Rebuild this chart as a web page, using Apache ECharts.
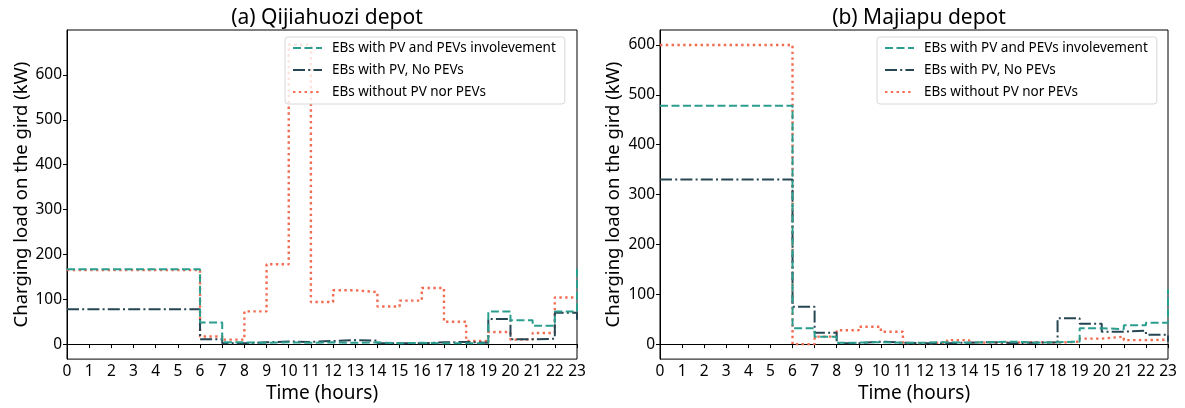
<!DOCTYPE html>
<html>
<head>
<meta charset="utf-8">
<script src="https://cdn.jsdelivr.net/npm/echarts@6/dist/echarts.min.js"></script>
<style>
html,body{margin:0;padding:0;background:#fff;}
#chart{width:1185px;height:408px;}
</style>
</head>
<body>
<div id="chart"></div>
<script>
// ---- data ----
const hours = [0,1,2,3,4,5,6,7,8,9,10,11,12,13,14,15,16,17,18,19,20,21,22,23];
const seriesNames = ['EBs with PV and PEVs involevement', 'EBs with PV, No PEVs', 'EBs without PV nor PEVs'];
const titles = ['(a) Qijiahuozi depot', '(b) Majiapu depot'];
const yTicks = [0,100,200,300,400,500,600];

// (a) Qijiahuozi depot
const qijiaPvPev = [167,167,167,167,167,167,48,4,3,4,3,4,3,4,2,3,2,2,2,73,53,41,73,172];
const qijiaPvNoPev = [78,78,78,78,78,78,11,2,4,6,5,7,9,8,2,2,4,5,3,56,11,12,70,50];
const qijiaNone = [165,165,165,165,165,165,17,10,73,178,667,94,120,116,84,97,125,50,7,27,10,25,104,104];

// (b) Majiapu depot
const majiaPvPev = [478,478,478,478,478,478,32,15,3,4,3,3,4,3,4,5,3,4,5,32,30,38,43,110];
const majiaPvNoPev = [330,330,330,330,330,330,75,23,2,5,3,2,2,3,4,2,3,4,52,41,25,27,19,5];
const majiaNone = [600,600,600,600,600,600,0,15,28,35,25,2,3,8,3,3,4,3,5,11,15,8,9,9];

const colors = ['#2a9d8f', '#264653', '#f26c52'];
const lineTypes = [[8,3.5], [12,3.2,2,3.2], [2.4,3.4]];
const lineWidths = [2, 2, 2.4];
const FONT = 'Noto Sans';

function pairs(vals){ return hours.map((h,i)=>[h, vals[i]]); }

const grids = [
  {left:67, right:608, top:30, bottom:48},
  {left:660, right:17, top:30, bottom:48}
];
const yRanges = [[-33.3, 700], [-30, 630]];
const legendLeft = [285, 877];
const yNameGap = [36, 37];
const dataSets = [[qijiaPvPev, qijiaPvNoPev, qijiaNone],[majiaPvPev, majiaPvNoPev, majiaNone]];

const option = {
  backgroundColor:'#fff',
  animation:false,
  textStyle:{fontFamily:FONT},
  title: titles.map((t,i)=>({
    text:t,
    left: grids[i].left + ( (1185 - grids[i].left - grids[i].right) / 2 ),
    textAlign:'center',
    top:3,
    textStyle:{fontFamily:FONT, fontSize:21, fontWeight:'normal', color:'#000'}
  })),
  legend: [0,1].map(i=>({
    orient:'vertical',
    left:legendLeft[i],
    top:37,
    data: seriesNames.map(n=>({name:n})),
    backgroundColor:'rgba(255,255,255,0.8)',
    borderColor:'#d8d8d8',
    borderWidth:1,
    borderRadius:3,
    padding:[4,9,5,7],
    itemGap:8,
    itemWidth:29,
    itemHeight:14,
    itemStyle:{opacity:0},
    textStyle:{fontFamily:FONT, fontSize:13.5, color:'#000', padding:[0,0,0,5]},
    selectedMode:false
  })),
  grid: grids.map(g=>Object.assign({show:true, borderColor:'#000', borderWidth:1, backgroundColor:'transparent'}, g)),
  xAxis: [0,1].map(i=>({
    type:'value', gridIndex:i, min:0, max:23, interval:1,
    name:'Time (hours)', nameLocation:'middle', nameGap:21,
    nameTextStyle:{fontFamily:FONT, fontSize:19, color:'#000'},
    axisLine:{show:true, lineStyle:{color:'#000', width:1}},
    axisTick:{show:true, length:4, lineStyle:{color:'#000'}},
    axisLabel:{fontFamily:FONT, fontSize:15.5, color:'#000', margin:4},
    splitLine:{show:false}
  })),
  yAxis: [0,1].map(i=>({
    type:'value', gridIndex:i, min:yRanges[i][0], max:yRanges[i][1],
    name:'Charging load on the gird (kW)', nameLocation:'middle', nameGap:yNameGap[i],
    nameTextStyle:{fontFamily:FONT, fontSize:18.5, color:'#000'},
    axisLine:{show:true, lineStyle:{color:'#000', width:1}},
    axisTick:{show:true, length:4, lineStyle:{color:'#000'}, customValues:yTicks},
    axisLabel:{fontFamily:FONT, fontSize:15.5, color:'#000', margin:5, customValues:yTicks},
    splitLine:{show:false}
  })),
  series: []
};

[0,1].forEach(i=>{
  dataSets[i].forEach((vals,k)=>{
    option.series.push({
      name: seriesNames[k],
      type:'line',
      xAxisIndex:i, yAxisIndex:i,
      step:'end',
      symbol:'none',
      data: pairs(vals),
      lineStyle:{color:colors[k], width:lineWidths[k], type:lineTypes[k]},
      itemStyle:{color:colors[k]},
      z: 3-k
    });
  });
});

const chart = echarts.init(document.getElementById('chart'), null, {renderer:'canvas'});
chart.setOption(option);
</script>
</body>
</html>
